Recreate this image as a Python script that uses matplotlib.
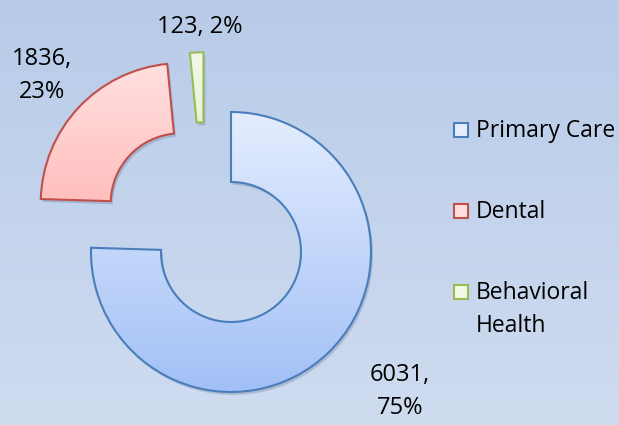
import numpy as np
import matplotlib
matplotlib.use('Agg')
import matplotlib.pyplot as plt
from matplotlib.colors import LinearSegmentedColormap
from matplotlib.patches import Rectangle, Wedge

plt.rcParams['font.family'] = ['Open Sans', 'DejaVu Sans']

# Datos
categorias = ['Primary Care', 'Dental', 'Behavioral Health']
leyenda = ['Primary Care', 'Dental', 'Behavioral\nHealth']
valores = [6031, 1836, 123]

# Estilos (degradado arriba -> abajo, borde)
color_arriba = ['#e4edfe', '#ffe0e0', '#f1f9e6']
color_abajo = ['#a2c0f6', '#ff9c99', '#cde6a4']
color_borde = ['#4a7ebb', '#c0504d', '#9bbb59']
explode = [0, 0.5, 0.47]
giro_explode = [0, -1, 22]  # ajuste de la direccion de separacion (grados)

W, H = 619, 425
fig = plt.figure(figsize=(W / 100, H / 100), dpi=100)
ax = fig.add_axes([0, 0, 1, 1])

# Fondo con degradado
fondo = LinearSegmentedColormap.from_list('fondo', ['#cfdcf0', '#b8cbe8'])
ax.imshow(np.linspace(0, 1, 256).reshape(-1, 1), cmap=fondo, origin='lower',
          extent=(0, W, 0, H), aspect='auto', zorder=0)

centro = (231, 173)
R = 140
wedges, _ = ax.pie(valores, startangle=90, counterclock=False, radius=R, center=centro,
                   wedgeprops=dict(width=R / 2, linewidth=1.5), explode=explode, frame=True)
ax.set_xlim(0, W)
ax.set_ylim(0, H)
ax.axis('off')

total = sum(valores)
for i, w in enumerate(wedges):
    ang = np.deg2rad((w.theta1 + w.theta2) / 2 + giro_explode[i])
    cx = centro[0] + explode[i] * R * np.cos(ang)
    cy = centro[1] + explode[i] * R * np.sin(ang)
    w.set_center((cx, cy))
    w.set_facecolor('none')
    w.set_edgecolor(color_borde[i])
    w.set_zorder(3)
    # sombra
    s = Wedge((cx + 2, cy - 3), R, w.theta1, w.theta2, width=R / 2,
              facecolor='#1f3050', alpha=0.18, edgecolor='none', zorder=1)
    ax.add_patch(s)
    cmap = LinearSegmentedColormap.from_list('g%d' % i, [color_abajo[i], color_arriba[i]])
    im = ax.imshow(np.linspace(0, 1, 256).reshape(-1, 1), cmap=cmap, origin='lower',
                   extent=(cx - R, cx + R, cy - R, cy + R), aspect='auto', zorder=2)
    im.set_clip_path(w)

# Etiquetas de datos
pos_etiquetas = [(400, 33), (42, 350), (200, 398)]
saltos = [',\n', ',\n', ', ']
for v, p, sep in zip(valores, pos_etiquetas, saltos):
    ax.text(p[0], p[1], '%d%s%d%%' % (v, sep, round(100 * v / total)),
            ha='center', va='center', fontsize=17, color='black',
            linespacing=1.5, zorder=5)

# Leyenda
y_cuadro = [295, 214, 133]
y_texto = [288, 207, 93]  # linea base de la ultima linea
for nombre, yc, yt, c1, c2 in zip(leyenda, y_cuadro, y_texto, color_arriba, color_borde):
    ax.add_patch(Rectangle((454, yc - 7), 14, 14, facecolor=c1, edgecolor=c2,
                           linewidth=1.5, zorder=5))
    ax.text(476, yt, nombre, ha='left', va='baseline',
            fontsize=16.5, linespacing=1.5, zorder=5)

fig.savefig('out.png', dpi=100)
